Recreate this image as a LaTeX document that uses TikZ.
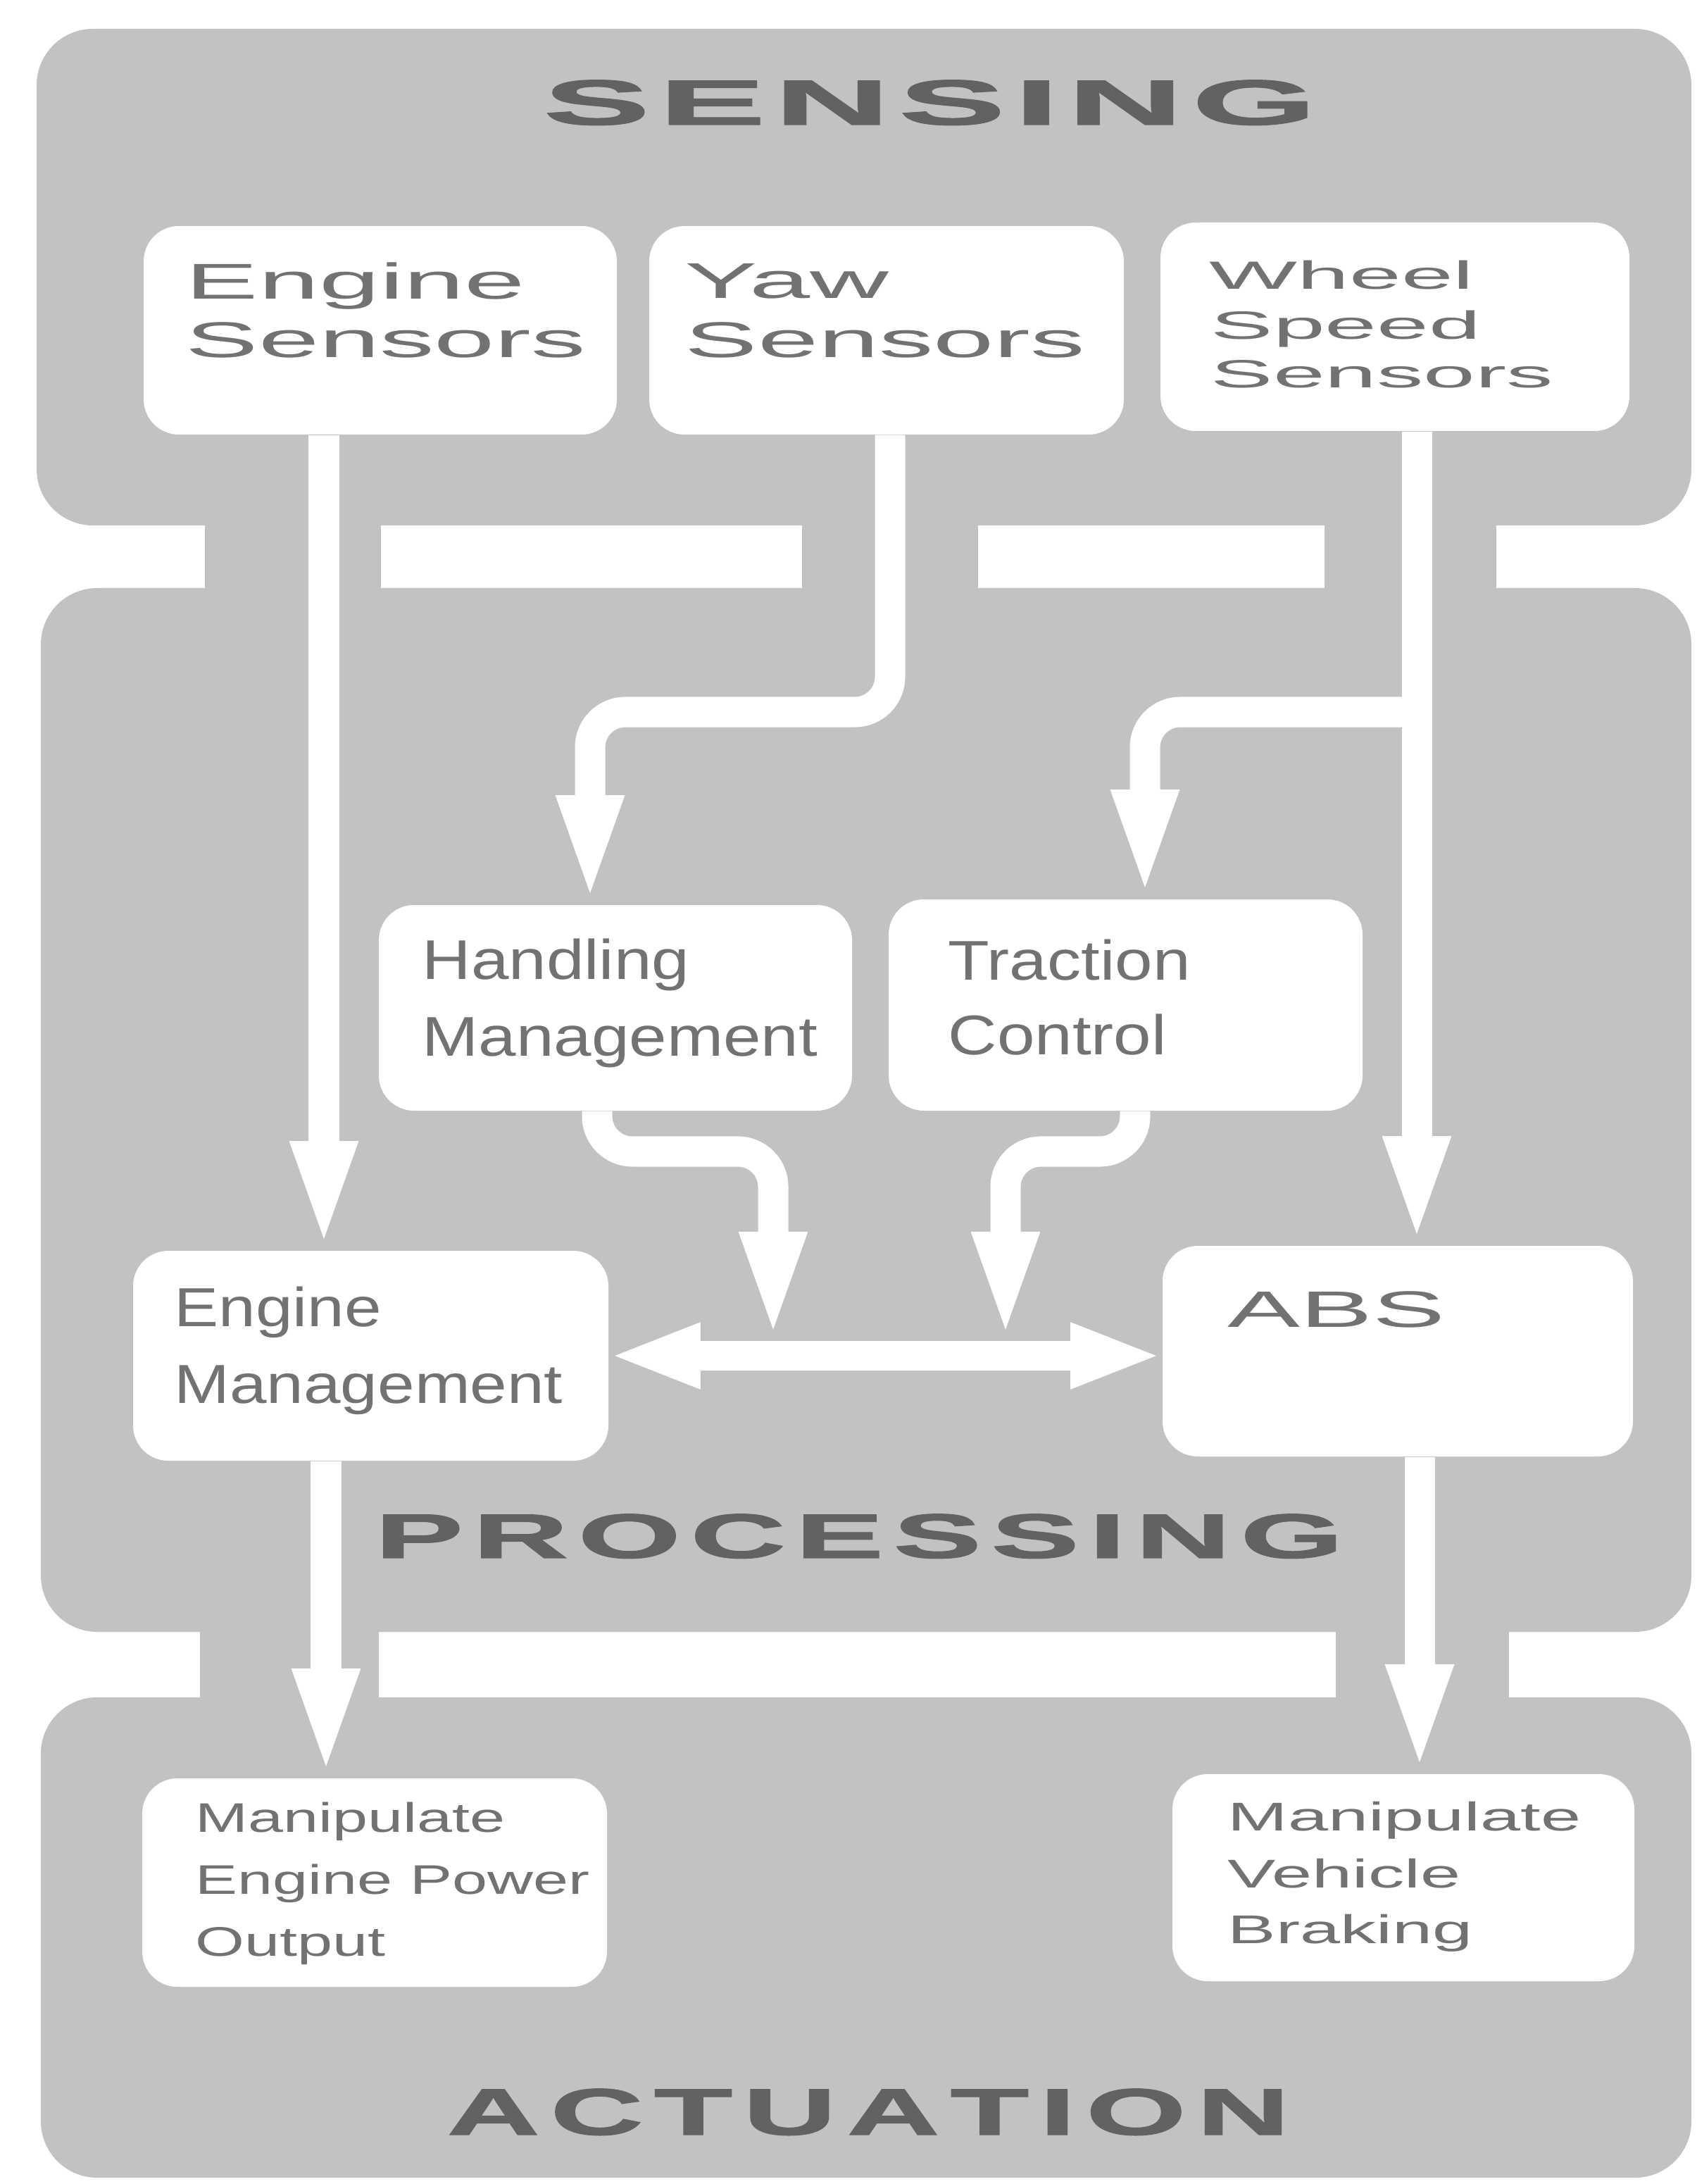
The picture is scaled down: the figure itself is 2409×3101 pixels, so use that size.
\documentclass[tikz,border=0pt]{standalone}
\usepackage{fontspec}
\usepackage{graphicx}
\usetikzlibrary{arrows.meta,fit,calc}
\setmainfont{Liberation Sans}
\newfontfamily\headfont[FakeBold=1.2]{Liberation Sans Bold}

\definecolor{panel}{RGB}{194,194,194}
\definecolor{ink}{RGB}{114,114,114}
\definecolor{headink}{RGB}{98,98,98}

% horizontally stretched text
\newcommand\sx[2]{\scalebox{#1}[1]{#2}}
% stretched capitals spread evenly over a given width
\ExplSyntaxOn
\NewDocumentCommand\spreadword{mmm}
  {\hbox~to~#2{\tl_map_inline:nn{#3}{\scalebox{#1}[1]{##1}\hfil}\unskip}}
\ExplSyntaxOff

\begin{document}
\begin{tikzpicture}[x=0.01cm,y=-0.01cm,
  panelbox/.style={fill=panel, draw=none, rounded corners=0.8cm, inner sep=0pt},
  bar/.style={fill=panel, draw=none},
  card/.style={fill=white, draw=none, rounded corners=0.5cm, inner sep=0pt},
  lbl/.style={anchor=base west, inner sep=0pt, text=ink},
  head/.style={anchor=base west, inner sep=0pt, text=headink},
  flow/.style={draw=white, line width=0.43cm, rounded corners=0.5cm,
    -{Triangle[length=1.55cm,width=0.84cm]}},
  both/.style={draw=white, line width=0.42cm,
    {Triangle[length=1.3cm,width=0.84cm]}-{Triangle[length=1.3cm,width=0.84cm]}},
  fS/.style={font=\fontsize{20.3}{24}\selectfont},
  fW/.style={font=\fontsize{15.9}{19}\selectfont},
  fP/.style={font=\fontsize{22.6}{27}\selectfont},
  fE/.style={font=\fontsize{22.2}{27}\selectfont},
  fA/.style={font=\fontsize{20.7}{25}\selectfont},
  fM/.style={font=\fontsize{16.7}{20}\selectfont},
  fB/.style={font=\fontsize{16.2}{20}\selectfont},
]
\useasboundingbox (0,0) rectangle (2409,3101);
\fill[white] (0,0) rectangle (2409,3101);

% ---- the three stage panels
\node[panelbox, fit={(52,41) (2402,746)}] (sensing) {};
\node[panelbox, fit={(58,835) (2402,2317)}] (processing) {};
\node[panelbox, fit={(58,2410) (2402,3092)}] (actuation) {};

% ---- bridges between the panels
\path[bar] (291,700) rectangle (541,880);
\path[bar] (1139,700) rectangle (1389,880);
\path[bar] (1881,700) rectangle (2125,880);
\path[bar] (284,2280) rectangle (538,2450);
\path[bar] (1897,2280) rectangle (2143,2450);

% ---- stage titles
\node[head, font=\fontsize{25.8}{30}\selectfont\headfont] (tsense) at (771,177)
  {\spreadword{2.5}{10.97cm}{SENSING}};
\node[head, font=\fontsize{25.4}{30}\selectfont\headfont] (tproc) at (532,2212)
  {\spreadword{2.1}{13.74cm}{PROCESSING}};
\node[head, font=\fontsize{26.6}{30}\selectfont\headfont] (tact) at (634,3031)
  {\spreadword{1.95}{11.96cm}{ACTUATION}};

% ---- blocks
\node[card, fit={(204,321) (876,617)}] (es) {};
\node[card, fit={(922,321) (1596,617)}] (ys) {};
\node[card, fit={(1648,316) (2314,612)}] (ws) {};
\node[card, fit={(538,1285) (1210,1577)}] (hm) {};
\node[card, fit={(1262,1277) (1935,1577)}] (tc) {};
\node[card, fit={(189,1776) (864,2074)}] (em) {};
\node[card, fit={(1651,1769) (2319,2068)}] (abs) {};
\node[card, fit={(202,2525) (862,2821)}] (me) {};
\node[card, fit={(1665,2519) (2321,2813)}] (mb) {};

% ---- block texts
\node[lbl, fS] (es1) at (263,425) {\sx{2.17}{Engine}};
\node[lbl, fS] (es2) at (263,508) {\sx{2.17}{Sensors}};
\node[lbl, fS] (ys1) at (972,424) {\sx{2.17}{Yaw}};
\node[lbl, fS] (ys2) at (972,508) {\sx{2.17}{Sensors}};
\node[lbl, fW] (ws1) at (1717,411) {\sx{2.37}{Wheel}};
\node[lbl, fW] (ws2) at (1719,482) {\sx{2.37}{Speed}};
\node[lbl, fW] (ws3) at (1719,551) {\sx{2.37}{Sensors}};
\node[lbl, fP] (hm1) at (599,1390) {\sx{1.21}{Handling}};
\node[lbl, fP] (hm2) at (599,1499) {\sx{1.21}{Management}};
\node[lbl, fP] (tc1) at (1346,1391) {\sx{1.21}{Traction}};
\node[lbl, fP] (tc2) at (1346,1497) {\sx{1.21}{Control}};
\node[lbl, fE] (em1) at (247,1883) {\sx{1.21}{Engine}};
\node[lbl, fE] (em2) at (247,1992) {\sx{1.21}{Management}};
\node[lbl, fA] (abs1) at (1743,1884) {\sx{2.12}{ABS}};
\node[lbl, fM] (me1) at (277,2601) {\sx{1.53}{Manipulate}};
\node[lbl, fM] (me2) at (277,2689) {\sx{1.53}{Engine Power}};
\node[lbl, fM] (me3) at (277,2777) {\sx{1.53}{Output}};
\node[lbl, fB] (mb1) at (1743,2599) {\sx{1.8}{Manipulate}};
\node[lbl, fB] (mb2) at (1743,2680) {\sx{1.8}{Vehicle}};
\node[lbl, fB] (mb3) at (1743,2759) {\sx{1.8}{Braking}};

% ---- routing columns and rows
\coordinate (cE) at (460,0);
\coordinate (cY) at (1264,0);
\coordinate (cH) at (838,0);
\coordinate (cW) at (2012,0);
\coordinate (cT) at (1626,0);
\coordinate (cHx) at (848,0);
\coordinate (cHd) at (1098,0);
\coordinate (cTx) at (1612,0);
\coordinate (cTd) at (1428,0);
\coordinate (cM) at (463,0);
\coordinate (cA) at (2016,0);
\coordinate (rowS) at (0,1011);
\coordinate (rowP) at (0,1635);
\coordinate (rowT) at (0,1904);

% ---- signal flow
\draw[flow] (es.south -| cE) -- (em.north -| cE);
\draw[flow] (ys.south -| cY) -- (cY |- rowS) -- (cH |- rowS) -- (hm.north -| cH);
\draw[flow] (ws.south -| cW) -- (abs.north -| cW);
\draw[flow] (cW |- rowS) -- (cT |- rowS) -- (tc.north -| cT);
\draw[both] (em.east) -- (em.east -| abs.west);
\draw[flow] (hm.south -| cHx) -- (cHx |- rowP) -- (cHd |- rowP) -- (cHd |- rowT);
\draw[flow] (tc.south -| cTx) -- (cTx |- rowP) -- (cTd |- rowP) -- (cTd |- rowT);
\draw[flow] (em.south -| cM) -- (me.north -| cM);
\draw[flow] (abs.south -| cA) -- (mb.north -| cA);
\end{tikzpicture}
\end{document}
